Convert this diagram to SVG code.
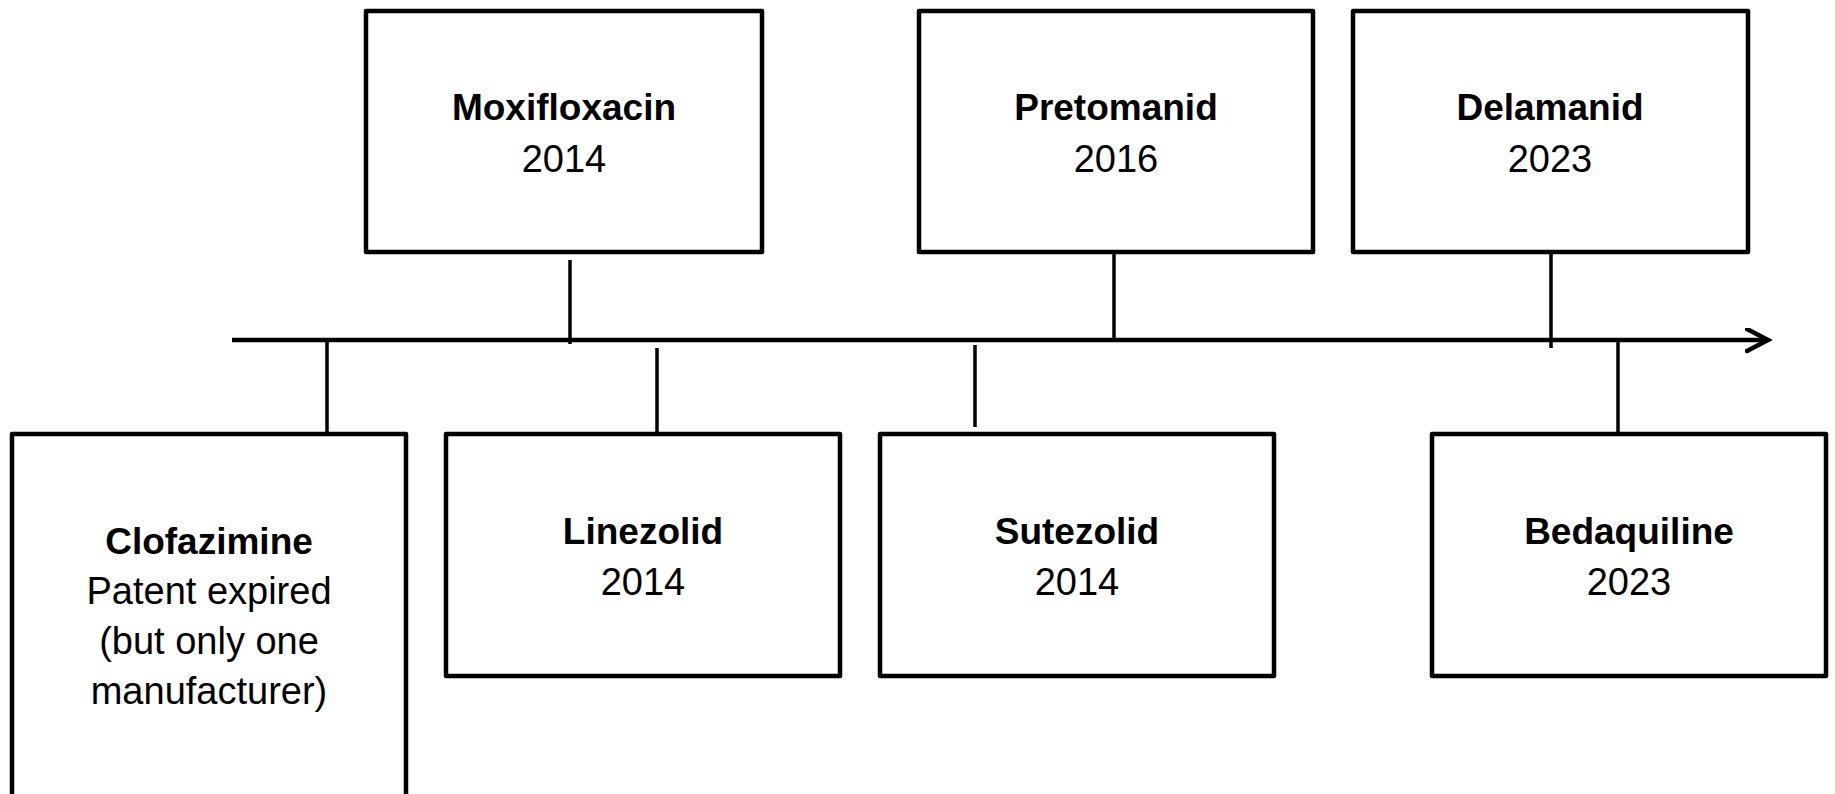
<svg xmlns="http://www.w3.org/2000/svg" width="1835" height="794" viewBox="0 0 1835 794">
<style>
.box{fill:#fff;stroke:#000;stroke-width:4.5;stroke-linejoin:round}
.tick{stroke:#000;stroke-width:3.5;fill:none}
.axis{stroke:#000;stroke-width:4.5;fill:none}
text{font-family:"Liberation Sans",Arial,sans-serif;font-size:38px;fill:#000;text-anchor:middle}
.b{font-weight:bold;font-size:37px}
</style>
<defs>
<marker id="chev" markerUnits="userSpaceOnUse" markerWidth="30" markerHeight="30" refX="23" refY="12" orient="auto">
<path d="M2,1 L23,12 L2,23" fill="none" stroke="#000" stroke-width="4.5" stroke-linejoin="miter" stroke-linecap="round"/>
</marker>
</defs>
<rect width="1835" height="794" fill="#fff"/>
<g id="connectors">
<line class="axis" x1="232" y1="340" x2="1768" y2="340" marker-end="url(#chev)"/>
<line class="tick" x1="327" y1="340" x2="327" y2="434"/>
<line class="tick" x1="570" y1="260" x2="570" y2="344"/>
<line class="tick" x1="657" y1="348" x2="657" y2="432"/>
<line class="tick" x1="1114" y1="252" x2="1114" y2="340"/>
<line class="tick" x1="975" y1="345" x2="975" y2="427"/>
<line class="tick" x1="1551" y1="252" x2="1551" y2="348"/>
<line class="tick" x1="1618" y1="340" x2="1618" y2="434"/>
</g>
<g id="moxifloxacin">
<rect class="box" x="366" y="11" width="396" height="241"/>
<text class="b" x="564" y="120">Moxifloxacin</text>
<text x="564" y="172">2014</text>
</g>
<g id="pretomanid">
<rect class="box" x="919" y="11" width="394" height="241"/>
<text class="b" x="1116" y="120">Pretomanid</text>
<text x="1116" y="172">2016</text>
</g>
<g id="delamanid">
<rect class="box" x="1353" y="11" width="395" height="241"/>
<text class="b" x="1550" y="120">Delamanid</text>
<text x="1550" y="172">2023</text>
</g>
<g id="clofazimine">
<rect class="box" x="12" y="434" width="394" height="380"/>
<text class="b" x="209" y="554">Clofazimine</text>
<text x="209" y="604">Patent expired</text>
<text x="209" y="654">(but only one</text>
<text x="209" y="704">manufacturer)</text>
</g>
<g id="linezolid">
<rect class="box" x="446" y="434" width="394" height="242"/>
<text class="b" x="643" y="544">Linezolid</text>
<text x="643" y="595">2014</text>
</g>
<g id="sutezolid">
<rect class="box" x="880" y="434" width="394" height="242"/>
<text class="b" x="1077" y="544">Sutezolid</text>
<text x="1077" y="595">2014</text>
</g>
<g id="bedaquiline">
<rect class="box" x="1432" y="434" width="394" height="242"/>
<text class="b" x="1629" y="544">Bedaquiline</text>
<text x="1629" y="595">2023</text>
</g>
</svg>
